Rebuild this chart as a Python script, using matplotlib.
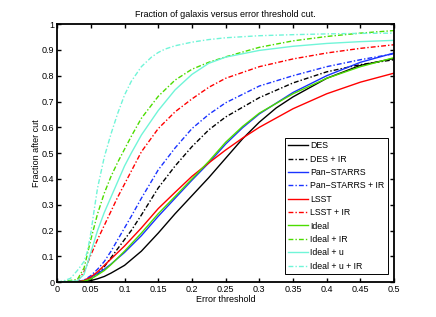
import matplotlib
matplotlib.use('Agg')
import matplotlib.pyplot as plt

plt.rcParams['font.family'] = ['Liberation Sans', 'DejaVu Sans']

# ---- data ----
des_x = [0, 0.04, 0.05, 0.06, 0.07, 0.08, 0.1, 0.125, 0.15, 0.175, 0.2, 0.225, 0.25, 0.275, 0.3, 0.325, 0.35, 0.4, 0.45, 0.5]
des_y = [0, 0.002, 0.006, 0.013, 0.022, 0.035, 0.065, 0.12, 0.19, 0.265, 0.335, 0.405, 0.48, 0.555, 0.62, 0.675, 0.718, 0.79, 0.84, 0.867]

des_ir_x = [0, 0.04, 0.05, 0.06, 0.07, 0.08, 0.09, 0.1, 0.11, 0.125, 0.15, 0.175, 0.2, 0.225, 0.25, 0.3, 0.35, 0.4, 0.45, 0.5]
des_ir_y = [0, 0.003, 0.012, 0.03, 0.06, 0.095, 0.13, 0.165, 0.2, 0.26, 0.365, 0.45, 0.525, 0.59, 0.64, 0.715, 0.772, 0.815, 0.843, 0.862]

solid_x = [0, 0.03, 0.04, 0.05, 0.06, 0.07, 0.08, 0.1, 0.125, 0.15, 0.175, 0.2, 0.225, 0.25, 0.275, 0.3, 0.35, 0.4, 0.45, 0.5]
pan_y = [0, 0.002, 0.007, 0.018, 0.034, 0.05, 0.07, 0.115, 0.18, 0.255, 0.325, 0.395, 0.462, 0.535, 0.598, 0.652, 0.735, 0.8, 0.852, 0.888]
lsst_y = [0, 0.002, 0.006, 0.02, 0.04, 0.065, 0.09, 0.14, 0.21, 0.285, 0.348, 0.41, 0.462, 0.512, 0.558, 0.6, 0.672, 0.73, 0.775, 0.81]
ideal_y = [0, 0.001, 0.004, 0.012, 0.028, 0.045, 0.068, 0.12, 0.19, 0.265, 0.332, 0.4, 0.468, 0.542, 0.603, 0.655, 0.73, 0.79, 0.835, 0.87]

ir_x = [0, 0.03, 0.04, 0.05, 0.06, 0.07, 0.08, 0.09, 0.1, 0.11, 0.125, 0.15, 0.175, 0.2, 0.225, 0.25, 0.3, 0.35, 0.4, 0.45, 0.5]
pan_ir_y = [0, 0.002, 0.008, 0.025, 0.05, 0.08, 0.12, 0.165, 0.21, 0.255, 0.325, 0.435, 0.52, 0.595, 0.65, 0.695, 0.76, 0.80, 0.835, 0.862, 0.885]
lsst_ir_y = [0, 0.003, 0.04, 0.105, 0.165, 0.22, 0.275, 0.33, 0.38, 0.43, 0.505, 0.595, 0.66, 0.71, 0.755, 0.79, 0.835, 0.865, 0.888, 0.906, 0.92]
ideal_ir_y = [0, 0.01, 0.055, 0.165, 0.265, 0.345, 0.41, 0.465, 0.515, 0.565, 0.635, 0.72, 0.783, 0.825, 0.852, 0.873, 0.91, 0.935, 0.952, 0.965, 0.975]
ideal_u_y = [0, 0.005, 0.03, 0.115, 0.2, 0.27, 0.33, 0.39, 0.45, 0.5, 0.57, 0.665, 0.745, 0.805, 0.848, 0.872, 0.898, 0.914, 0.925, 0.932, 0.937]

iuir_x = [0, 0.01, 0.02, 0.03, 0.04, 0.045, 0.05, 0.055, 0.06, 0.07, 0.08, 0.09, 0.1, 0.11, 0.125, 0.14, 0.15, 0.16, 0.175, 0.2, 0.225, 0.25, 0.3, 0.35, 0.4, 0.45, 0.5]
iuir_y = [0, 0.005, 0.015, 0.045, 0.08, 0.12, 0.19, 0.28, 0.365, 0.485, 0.575, 0.655, 0.725, 0.778, 0.835, 0.872, 0.89, 0.903, 0.916, 0.93, 0.94, 0.947, 0.955, 0.959, 0.962, 0.964, 0.965]

GREEN = '#4cdc00'
CYAN = '#70f5d8'
BLUE = '#1a33ff'
dashdot = (0, (3.5, 1.5, 1, 1.5))

series = [
    ('DES', des_x, des_y, 'k', '-'),
    ('DES + IR', des_ir_x, des_ir_y, 'k', dashdot),
    ('Pan\u2212STARRS', solid_x, pan_y, BLUE, '-'),
    ('Pan\u2212STARRS + IR', ir_x, pan_ir_y, BLUE, dashdot),
    ('LSST', solid_x, lsst_y, 'r', '-'),
    ('LSST + IR', ir_x, lsst_ir_y, 'r', dashdot),
    ('Ideal', solid_x, ideal_y, GREEN, '-'),
    ('Ideal + IR', ir_x, ideal_ir_y, GREEN, dashdot),
    ('Ideal + u', ir_x, ideal_u_y, CYAN, '-'),
    ('Ideal + u + IR', iuir_x, iuir_y, CYAN, dashdot),
]

fig = plt.figure(figsize=(4.36, 3.17), dpi=100)
ax = fig.add_axes([0.131, 0.110, 0.773, 0.814])

for name, xs, ys, c, ls in series:
    ax.plot(xs, ys, color=c, linestyle=ls, linewidth=1.0, label=name)

ax.set_xlim(0, 0.5)
ax.set_ylim(0, 1)
ax.set_xticks([0, 0.05, 0.1, 0.15, 0.2, 0.25, 0.3, 0.35, 0.4, 0.45, 0.5])
ax.set_xticklabels(['0', '0.05', '0.1', '0.15', '0.2', '0.25', '0.3', '0.35', '0.4', '0.45', '0.5'])
ax.set_yticks([0, 0.1, 0.2, 0.3, 0.4, 0.5, 0.6, 0.7, 0.8, 0.9, 1])
ax.set_yticklabels(['0', '0.1', '0.2', '0.3', '0.4', '0.5', '0.6', '0.7', '0.8', '0.9', '1'])
ax.tick_params(direction='in', top=True, right=True, length=3, width=1.0, labelsize=6.5, pad=2)
for sp in ax.spines.values():
    sp.set_linewidth(1.3)

ax.set_title('Fraction of galaxis versus error threshold cut.', fontsize=6.5, pad=5)
ax.set_xlabel('Error threshold', fontsize=6.5, labelpad=1)
ax.set_ylabel('Fraction after cut', fontsize=6.5, labelpad=0.5)

leg = ax.legend(loc='lower right', bbox_to_anchor=(0.982, 0.031), borderaxespad=0,
                fontsize=6.3, fancybox=False, framealpha=1, edgecolor='k',
                handlelength=2.2, handletextpad=0.3, labelspacing=0.5, borderpad=0.4)
leg.get_frame().set_linewidth(0.7)

fig.savefig('out.png', dpi=100, facecolor='white')
